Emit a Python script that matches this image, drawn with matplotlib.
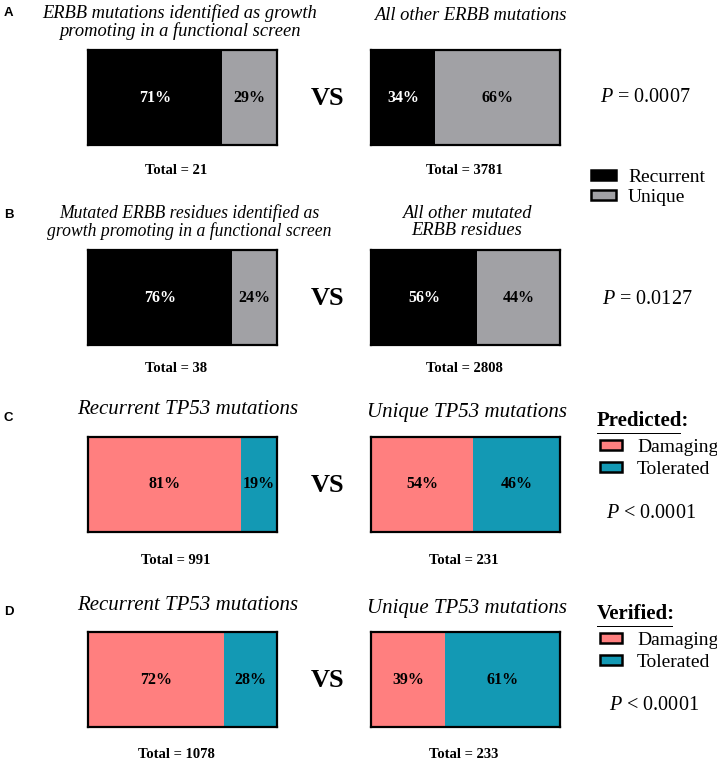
import matplotlib.pyplot as plt
from matplotlib.patches import Patch, Rectangle

plt.rcParams['font.family'] = 'Liberation Serif'
plt.rcParams['mathtext.fontset'] = 'custom'
plt.rcParams['mathtext.it'] = 'Liberation Serif:italic'
plt.rcParams['mathtext.rm'] = 'Liberation Serif'

# data
panels = ['A', 'B', 'C', 'D']
left_first = [71, 76, 81, 72]
left_second = [29, 24, 19, 28]
right_first = [34, 56, 54, 39]
right_second = [66, 44, 46, 61]
left_totals = [21, 38, 991, 1078]
right_totals = [3781, 2808, 231, 233]
p_texts = [r'$P$ = 0.0007', r'$P$ = 0.0127', r'$P$ < 0.0001', r'$P$ < 0.0001']
left_titles = ['ERBB mutations identified as growth\npromoting in a functional screen',
               'Mutated ERBB residues identified as\ngrowth promoting in a functional screen',
               'Recurrent TP53 mutations',
               'Recurrent TP53 mutations']
right_titles = ['All other ERBB mutations',
                'All other mutated\nERBB residues',
                'Unique TP53 mutations',
                'Unique TP53 mutations']
erbb_labels = ['Recurrent', 'Unique']
tp53_labels = ['Damaging', 'Tolerated']
tp53_headers = ['Predicted:', 'Verified:']

black = '#000000'
grey = '#A1A1A5'
salmon = '#FF7F7F'
teal = '#1399B4'

W, H = 717, 767
fig = plt.figure(figsize=(W / 100, H / 100), dpi=100)


def fx(x):
    return x / W


def fy(y):
    return 1 - y / H


# pixel layout
bar_top = [50, 250, 437, 632]
bar_h = 95
left_x, right_x, bar_w = 88, 371, 189
total_y = [171, 369, 561, 754]


def draw_bar(x0, y0, a, b, colors):
    ax = fig.add_axes([fx(x0), fy(y0 + bar_h), bar_w / W, bar_h / H])
    ax.barh(0, a, height=1, color=colors[0], edgecolor='none')
    ax.barh(0, b, left=a, height=1, color=colors[1], edgecolor='none')
    ax.set_xlim(0, 100)
    ax.set_ylim(-0.5, 0.5)
    ax.set_xticks([])
    ax.set_yticks([])
    for s in ax.spines.values():
        s.set_linewidth(1.6)
    tc = ['white' if colors[0] == black else 'black', 'black']
    ax.text(a / 2, 0, f'{a}%', ha='center', va='center', color=tc[0],
            fontsize=11.5, fontweight='bold')
    ax.text(a + b / 2, 0, f'{b}%', ha='center', va='center', color=tc[1],
            fontsize=11.5, fontweight='bold')


for i in range(4):
    cols = [black, grey] if i < 2 else [salmon, teal]
    draw_bar(left_x, bar_top[i], left_first[i], left_second[i], cols)
    draw_bar(right_x, bar_top[i], right_first[i], right_second[i], cols)
    mid = bar_top[i] + bar_h / 2
    fig.text(fx(328), fy(mid + 1), 'VS', ha='center', va='center',
             fontsize=19, fontweight='bold')
    fig.text(fx(176), fy(total_y[i]), f'Total = {left_totals[i]}', ha='center',
             va='center', fontsize=10.5, fontweight='bold')
    fig.text(fx(464), fy(total_y[i]), f'Total = {right_totals[i]}', ha='center',
             va='center', fontsize=10.5, fontweight='bold')

# panel letters
for lab, y in zip(panels, [13, 215, 418, 612]):
    fig.text(fx(4), fy(y), lab, ha='left', va='center', fontsize=9.5,
             fontweight='bold', family='Liberation Sans')

# titles
fig.text(fx(180), fy(22), left_titles[0], ha='center', va='center',
         fontsize=13.3, style='italic', linespacing=1.0)
fig.text(fx(470), fy(15), right_titles[0], ha='center', va='center',
         fontsize=13.3, style='italic')
fig.text(fx(189), fy(222), left_titles[1], ha='center', va='center',
         fontsize=12.7, style='italic', linespacing=1.05)
fig.text(fx(467), fy(222), right_titles[1], ha='center', va='center',
         fontsize=13.3, style='italic', linespacing=1.0)
fig.text(fx(188), fy(410), left_titles[2], ha='center', va='center',
         fontsize=15, style='italic')
fig.text(fx(467), fy(413), right_titles[2], ha='center', va='center',
         fontsize=15, style='italic')
fig.text(fx(188), fy(606), left_titles[3], ha='center', va='center',
         fontsize=15, style='italic')
fig.text(fx(467), fy(608), right_titles[3], ha='center', va='center',
         fontsize=15, style='italic')

# p values
for txt, x, y in zip(p_texts, [645, 647, 651, 654], [97, 299, 514, 706]):
    fig.text(fx(x), fy(y), txt, ha='center', va='center', fontsize=14.5)

# legends
erbb_handles = [Patch(facecolor=c, edgecolor='black', linewidth=1.8, label=l)
                for c, l in zip([black, grey], erbb_labels)]
fig.legend(handles=erbb_handles, loc='upper left',
           bbox_to_anchor=(fx(591), fy(169)), frameon=False, fontsize=14,
           handlelength=1.3, handleheight=0.45, handletextpad=0.6,
           labelspacing=0.15, borderpad=0, borderaxespad=0)

for hdr, hy, ux in zip(tp53_headers, [421, 614], [681, 673]):
    fig.text(fx(597), fy(hy), hdr, ha='left', va='center', fontsize=15,
             fontweight='bold')
    fig.add_artist(Rectangle((fx(597), fy(hy + 13)), fx(ux - 597), 1.4 / H,
                             facecolor='black', edgecolor='none',
                             transform=fig.transFigure, zorder=5))
    tp_handles = [Patch(facecolor=c, edgecolor='black', linewidth=1.8, label=l)
                  for c, l in zip([salmon, teal], tp53_labels)]
    fig.legend(handles=tp_handles, loc='upper left',
               bbox_to_anchor=(fx(600), fy(hy + 18)), frameon=False, fontsize=14,
               handlelength=1.15, handleheight=0.45, handletextpad=0.75,
               labelspacing=0.25, borderpad=0, borderaxespad=0)

fig.savefig('out.png', dpi=100)
